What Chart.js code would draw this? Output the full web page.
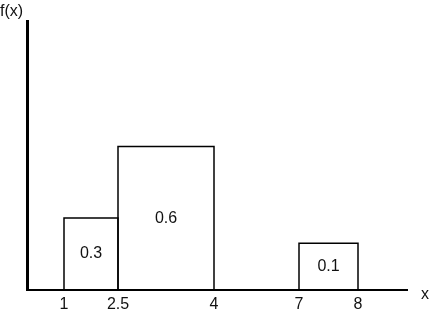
<!DOCTYPE html>
<html>
<head>
<meta charset="utf-8">
<script src="https://cdn.jsdelivr.net/npm/chart.js@4.4.1/dist/chart.umd.min.js"></script>
<style>
  html, body { margin: 0; padding: 0; background: #fff; }
  canvas { display: block; }
</style>
</head>
<body>
<canvas id="densityChart" width="429" height="315"></canvas>
<script>
// piecewise uniform density, one box per interval
const leftEdges = [1, 2.5, 7];
const rightEdges = [2.5, 4, 8];
const heights = [0.2, 0.4, 0.13]; // as drawn, the sketch is not to scale
const areaLabels = ["0.3", "0.6", "0.1"];
const xTicks = [1, 2.5, 4, 7, 8];
const xTickLabels = ["1", "2.5", "4", "7", "8"];

// the sketch's x axis is stretched unevenly, so each gap between knots gets its own width
const axisKnots = [0, 1, 2.5, 4, 7, 8, 9];
const knotGaps = [37, 54, 96, 85, 59, 49];

const gapTotal = knotGaps.reduce((a, b) => a + b, 0);
const knotDecimals = [0];
knotGaps.forEach((g, i) => knotDecimals.push(knotDecimals[i] + g / gapTotal));

function valueToDecimal(v) {
  for (let i = 0; i < axisKnots.length - 1; i++) {
    if (v <= axisKnots[i + 1] || i === axisKnots.length - 2) {
      const t = (v - axisKnots[i]) / (axisKnots[i + 1] - axisKnots[i]);
      return knotDecimals[i] + t * (knotDecimals[i + 1] - knotDecimals[i]);
    }
  }
  return 0;
}

function decimalToValue(d) {
  for (let i = 0; i < knotDecimals.length - 1; i++) {
    if (d <= knotDecimals[i + 1] || i === knotDecimals.length - 2) {
      const t = (d - knotDecimals[i]) / (knotDecimals[i + 1] - knotDecimals[i]);
      return axisKnots[i] + t * (axisKnots[i + 1] - axisKnots[i]);
    }
  }
  return 0;
}

class StretchedScale extends Chart.LinearScale {
  getPixelForValue(value) {
    return this.getPixelForDecimal(valueToDecimal(value));
  }
  getValueForPixel(pixel) {
    return decimalToValue(this.getDecimalForPixel(pixel));
  }
}
StretchedScale.id = "stretched";
StretchedScale.defaults = {};
Chart.register(StretchedScale);

const FONT = "'Liberation Sans', Arial, sans-serif";

const boxText = {
  id: "boxText",
  afterDatasetsDraw(chart) {
    const { ctx, chartArea } = chart;
    const x = chart.scales.x;
    const y = chart.scales.y;
    ctx.save();
    ctx.font = "16px " + FONT;
    ctx.fillStyle = "#111";
    ctx.textAlign = "center";
    ctx.textBaseline = "middle";
    areaLabels.forEach((t, i) => {
      const cx = (x.getPixelForValue(leftEdges[i]) + x.getPixelForValue(rightEdges[i])) / 2;
      const cy = (y.getPixelForValue(0) + y.getPixelForValue(heights[i])) / 2;
      ctx.fillText(t, cx, cy);
    });
    ctx.textAlign = "left";
    ctx.fillText("f(x)", 0, 12);
    ctx.fillText("x", chartArea.right + 14, chartArea.bottom + 5);
    ctx.restore();
  }
};

const boxes = leftEdges.map((x0, i) => ({
  data: [
    { x: x0, y: 0 },
    { x: x0, y: heights[i] },
    { x: rightEdges[i], y: heights[i] },
    { x: rightEdges[i], y: 0 }
  ],
  showLine: true,
  borderColor: "#000",
  borderWidth: 1.5,
  pointRadius: 0,
  fill: false,
  tension: 0
}));

new Chart(document.getElementById("densityChart"), {
  type: "scatter",
  data: { datasets: boxes },
  options: {
    responsive: false,
    animation: false,
    layout: { padding: { left: 27, right: 22, top: 21, bottom: -4 } },
    plugins: {
      legend: { display: false },
      tooltip: { enabled: false }
    },
    scales: {
      x: {
        type: "stretched",
        min: 0,
        max: 9,
        afterBuildTicks: (scale) => {
          scale.ticks = xTicks.map((v) => ({ value: v }));
        },
        grid: { display: false, drawTicks: false },
        border: { display: true, color: "#000", width: 2 },
        ticks: {
          autoSkip: false,
          maxRotation: 0,
          padding: 5,
          color: "#111",
          font: { family: FONT, size: 16 },
          callback: (v, i) => xTickLabels[i]
        }
      },
      y: {
        min: 0,
        max: 0.75,
        grid: { display: false, drawTicks: false },
        border: { display: true, color: "#000", width: 3 },
        ticks: { display: false }
      }
    }
  },
  plugins: [boxText]
});
</script>
</body>
</html>
